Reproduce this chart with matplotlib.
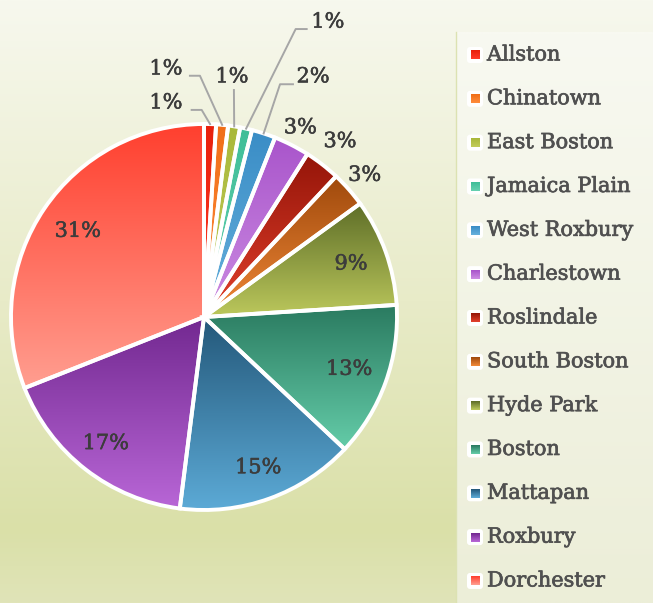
import numpy as np
import matplotlib
matplotlib.use("Agg")
import matplotlib.pyplot as plt
import matplotlib.patheffects as pe
from matplotlib.colors import LinearSegmentedColormap, to_rgb
from matplotlib.patches import FancyBboxPatch

neighborhoods = ["Allston", "Chinatown", "East Boston", "Jamaica Plain",
                 "West Roxbury", "Charlestown", "Roslindale", "South Boston",
                 "Hyde Park", "Boston", "Mattapan", "Roxbury", "Dorchester"]
shares = [1, 1, 1, 1, 2, 3, 3, 3, 9, 13, 15, 17, 31]

# gradient colours per slice: top -> bottom
top_colors = ["#E8200C", "#F06E18", "#A9B83A", "#3FBE98", "#3A8DC6",
              "#A955CB", "#951509", "#A04A0C", "#5E6E28", "#2A7A60",
              "#24587A", "#722890", "#FF3F2E"]
bottom_colors = ["#FF3A28", "#FF8C3C", "#C2CC5A", "#66D0B0", "#66B0DC",
                 "#CC8CE2", "#E2402C", "#F08838", "#BCC85C", "#64CCA8",
                 "#5CAAD6", "#B866D6", "#FF9E90"]

plt.rcParams["font.family"] = ["DejaVu Serif"]

W, H = 653, 603
fig = plt.figure(figsize=(W / 100, H / 100), dpi=100)


def vgrad(c1, c2, n=128):
    a, b = np.array(to_rgb(c1)), np.array(to_rgb(c2))
    t = np.linspace(0, 1, n)[:, None]
    return (a + (b - a) * t)[:, None, :]


# background
bg = fig.add_axes([0, 0, 1, 1])
bg_cmap = LinearSegmentedColormap.from_list(
    "bg", [(0, "#F7F8EE"), (0.5, "#E8EBC8"), (0.88, "#DAE0A8"), (1, "#E0E4B8")])
bg.imshow(bg_cmap(np.linspace(0, 1, 256))[:, None, :3], extent=(0, W, H, 0),
          aspect="auto", interpolation="bilinear", zorder=0)
# legend panel
bg.imshow(vgrad("#F8F9F1", "#ECEED8"), extent=(456, W, H, 32),
          aspect="auto", interpolation="bilinear", zorder=0.5)
bg.plot([456, 456], [32, H], color="#DCE2B2", lw=1)
row0, step = 55, 43.83
for i, name in enumerate(neighborhoods):
    y = row0 + i * step
    bg.add_patch(FancyBboxPatch((467, y - 8), 16, 16,
                                boxstyle="round,pad=0,rounding_size=3",
                                fc="white", ec="none", zorder=2))
    bg.imshow(vgrad(top_colors[i], bottom_colors[i], 16),
              extent=(471, 480, y + 4.5, y - 4.5), aspect="auto",
              interpolation="bilinear", zorder=3)
    bg.text(487, y, name, fontsize=15, color="#505050", va="center", ha="left",
            path_effects=[pe.withStroke(linewidth=0.5, foreground="#505050")])
bg.set_xlim(0, W)
bg.set_ylim(H, 0)
bg.axis("off")

# pie
cx, cy, R = 204, 317, 193
ax = fig.add_axes([(cx - R) / W, (H - cy - R) / H, 2 * R / W, 2 * R / H])
wedges, _ = ax.pie(shares, startangle=90, counterclock=False, radius=1,
                   colors=["none"] * len(shares),
                   wedgeprops=dict(edgecolor="white", linewidth=2.8))
for i, w in enumerate(wedges):
    w.set_clip_on(False)
    w.set_zorder(3)
    ts = np.radians(np.linspace(w.theta1, w.theta2, 120))
    xs = np.r_[0, np.cos(ts)]
    ys = np.r_[0, np.sin(ts)]
    im = ax.imshow(vgrad(top_colors[i], bottom_colors[i]),
                   extent=(xs.min(), xs.max(), ys.min(), ys.max()),
                   aspect="auto", interpolation="bilinear", zorder=2)
    im.set_clip_path(w)

# label layout (pie units): radial distance for direct labels,
# explicit positions + leader lines for the thin slices
label_r = [None] * 5 + [1.10, 1.15, 1.11, 0.81, 0.80, 0.83, 0.83, 0.79]
leaders = {
    0: ((-0.197, 1.109), [(-0.064, 1.073), (-0.012, 1.073)]),
    1: ((-0.197, 1.285), [(-0.073, 1.250), (-0.021, 1.250)]),
    2: ((0.145, 1.244), [(0.155, 1.176)]),
    3: ((0.642, 1.528), [(0.532, 1.492), (0.475, 1.492)]),
    4: ((0.565, 1.244), [(0.461, 1.206), (0.394, 1.206)]),
}
for i, w in enumerate(wedges):
    mid = np.radians((w.theta1 + w.theta2) / 2)
    txt = f"{shares[i]}%"
    if i in leaders:
        (lx, ly), pts = leaders[i]
        ex, ey = np.cos(mid) * 1.0, np.sin(mid) * 1.0
        px = [p[0] for p in pts] + [ex]
        py = [p[1] for p in pts] + [ey]
        ax.plot(px, py, color="#A6A6A6", lw=1.4, clip_on=False, zorder=4)
    else:
        lx, ly = np.cos(mid) * label_r[i], np.sin(mid) * label_r[i]
    ax.text(lx, ly, txt, fontsize=15, color="#3C3C3C", ha="center",
            va="center", zorder=5, clip_on=False,
            path_effects=[pe.withStroke(linewidth=0.4, foreground="#3C3C3C")])

ax.set_xlim(-1, 1)
ax.set_ylim(-1, 1)
ax.axis("off")

fig.savefig("out.png", dpi=100)
